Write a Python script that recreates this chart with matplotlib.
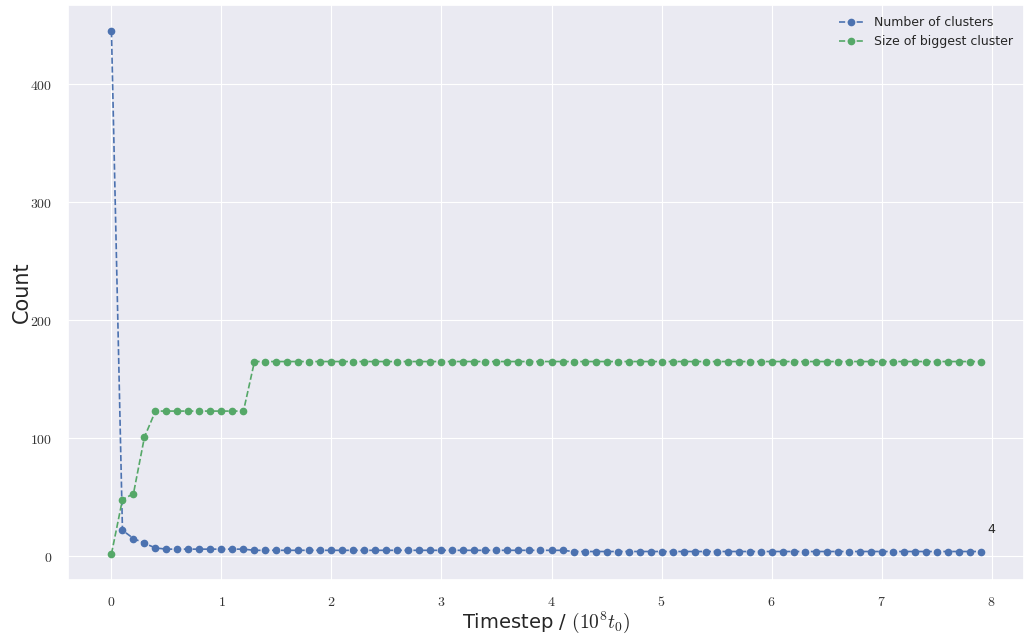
import numpy as np
import matplotlib.pyplot as plt
import seaborn as sns
from matplotlib.ticker import FuncFormatter

# timesteps in units of 1e8 t0
timestep = np.round(np.arange(0, 80) * 0.1, 1)

n_clusters = [445, 22, 15, 11, 7] + [6] * 8 + [5] * 29 + [4] * 38
biggest = [2, 48, 53, 101] + [123] * 9 + [165] * 67

sns.set_theme(style="darkgrid")
plt.rcParams['font.family'] = ['DejaVu Sans']
plt.rcParams['mathtext.fontset'] = 'cm'
plt.rcParams['grid.linewidth'] = 0.8

fig, ax = plt.subplots(figsize=(10.26, 6.37), dpi=100)
fig.subplots_adjust(left=68/1026, right=1024/1026, top=1-5/637, bottom=1-580/637)

ax.plot(timestep, n_clusters, '--o', color='#4C72B0', markersize=4.5, linewidth=1.2,
        label='Number of clusters')
ax.plot(timestep, biggest, '--o', color='#55A868', markersize=4.5, linewidth=1.2,
        label='Size of biggest cluster')
ax.annotate(str(n_clusters[-1]), (timestep[-1], n_clusters[-1]), textcoords='offset points',
            xytext=(8, 16), ha='center', va='center', fontsize=9)

ax.set_xticks(range(0, 9))
ax.set_yticks(range(0, 401, 100))
fmt = FuncFormatter(lambda v, p: r'$%d$' % v)
ax.xaxis.set_major_formatter(fmt)
ax.yaxis.set_major_formatter(fmt)
ax.tick_params(labelsize=10, colors='#333333', pad=5)

ax.set_xlabel(r'Timestep / $(10^8 t_0)$', fontsize=14, labelpad=0)
ax.set_ylabel('Count', fontsize=15, labelpad=-1)
ax.legend(loc='upper right', fontsize=9, frameon=False)

plt.savefig('out.png', dpi=100)
